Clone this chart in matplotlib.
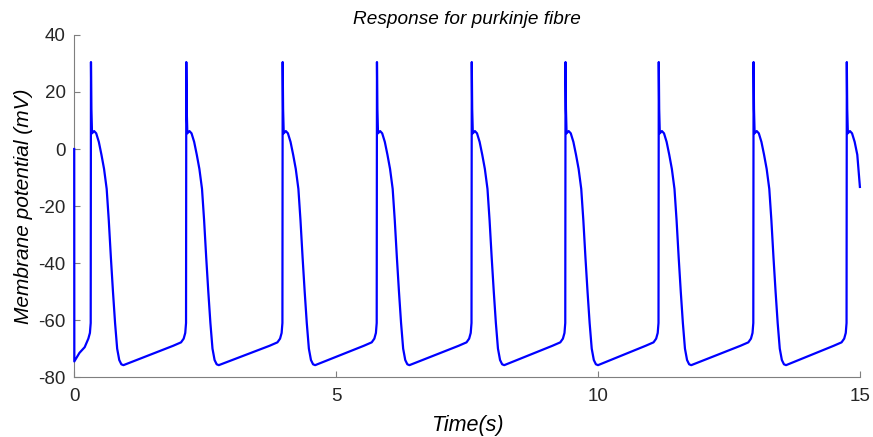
import numpy as np
from matplotlib import pyplot as plt

plt.rcParams['font.family'] = ['Liberation Sans', 'DejaVu Sans']
plt.rcParams['axes.unicode_minus'] = False

# spike (upstroke) times, in seconds
spike_times = [0.32, 2.14, 3.98, 5.78, 7.59, 9.38, 11.16, 12.97, 14.75]

# shape of one action potential, offset (s) from the upstroke vs membrane potential (mV)
ap_offsets = [-0.25, -0.10, -0.05, -0.02, -0.005, 0.0, 0.008, 0.02, 0.06, 0.10,
              0.15, 0.20, 0.25, 0.30, 0.34, 0.38, 0.42, 0.46, 0.50, 0.54, 0.58, 0.62]
ap_volts = [-69.0, -67.8, -66.5, -64.5, -61.0, 30.5, 14.0, 5.5, 6.3, 5.5,
            2.5, -2.0, -7.0, -14.0, -25.0, -38.0, -50.0, -61.0, -70.0, -74.0, -75.5, -75.8]

# start of the trace before the first beat
start_times = [0.0, 0.002, 0.10, 0.20]
start_volts = [0.0, -74.5, -71.5, -69.5]

t_end = 15.0
v_end = -13.3

t = list(start_times)
v = list(start_volts)
for i, ts in enumerate(spike_times):
    offs, vs = ap_offsets, ap_volts
    if i == 0:
        offs, vs = ap_offsets[2:], ap_volts[2:]
    for o, val in zip(offs, vs):
        if ts + o < t_end:
            t.append(ts + o)
            v.append(val)
t.append(t_end)
v.append(v_end)

fig = plt.figure(figsize=(8.73, 4.37), dpi=100)
ax = fig.add_axes([0.085, 0.137, 0.900, 0.783])
ax.plot(t, v, color=(0, 0, 1), linewidth=1.6, zorder=3, clip_on=False)

ax.set_xlim(0, 15)
ax.set_ylim(-80, 40)
ax.set_xticks([0, 5, 10, 15])
ax.set_yticks([-80, -60, -40, -20, 0, 20, 40])
for s in ['top', 'right']:
    ax.spines[s].set_visible(False)
for s in ['left', 'bottom']:
    ax.spines[s].set_color('#7f7f7f')
    ax.spines[s].set_linewidth(0.8)
ax.tick_params(direction='in', length=4, width=0.8, color='#7f7f7f',
               labelsize=13.5, labelcolor='#262626')
ax.tick_params(axis='x', pad=8)
ax.tick_params(axis='y', pad=6)

ax.set_title('Response for purkinje fibre', fontsize=13.7, style='italic', color='#000000', pad=8)
ax.set_xlabel('Time(s)', fontsize=15.5, style='italic', labelpad=7)
ax.set_ylabel('Membrane potential (mV)', fontsize=15, style='italic', labelpad=4)

fig.savefig('out.png', dpi=100)
